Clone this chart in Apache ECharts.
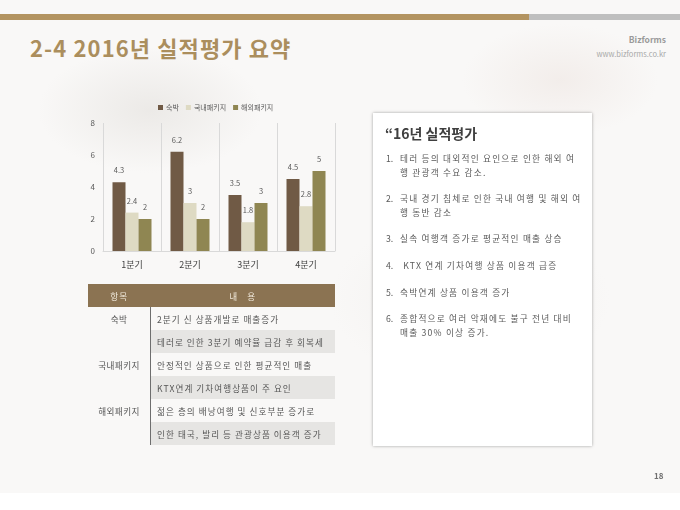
<!DOCTYPE html>
<html>
<head>
<meta charset="utf-8">
<script src="https://cdn.jsdelivr.net/npm/echarts@6/dist/echarts.min.js"></script>
<style>
  html, body { margin: 0; padding: 0; width: 680px; height: 510px; background: #fff; overflow: hidden; }
  body { font-family: "Noto Sans CJK KR", "Noto Sans", sans-serif; position: relative; }
  #slide {
    position: absolute; left: 0; top: 0; width: 680px; height: 493px;
    background:
      radial-gradient(ellipse 160px 90px at 150px 110px, rgba(225,222,218,0.55), rgba(255,255,255,0) 70%),
      radial-gradient(ellipse 140px 80px at 560px 80px, rgba(238,230,226,0.6), rgba(255,255,255,0) 70%),
      radial-gradient(ellipse 200px 120px at 470px 300px, rgba(235,232,230,0.5), rgba(255,255,255,0) 70%),
      #f9f8f7;
  }
  .bar-gold { position: absolute; left: 0; top: 14px; width: 529px; height: 6px; background: #b39461; }
  .bar-gray { position: absolute; left: 529px; top: 14px; width: 151px; height: 6px; background: #bfbfbf; }
  .title { position: absolute; left: 30px; top: 31px; font-size: 22px; font-weight: bold; color: #ab8e5d; letter-spacing: 1.1px; }
  .brand { position: absolute; right: 14px; top: 33px; font-size: 8.5px; font-weight: bold; color: #9a9a9a; text-align: right; }
  .url { position: absolute; right: 14px; top: 48px; font-size: 7.5px; color: #a8a8a8; text-align: right; }
  #chart { position: absolute; left: 0; top: 0; width: 680px; height: 510px; }
  table.info { position: absolute; left: 88px; top: 284px; width: 247px; border-collapse: collapse; font-size: 8.6px; color: #555; letter-spacing: 1.05px; }
  table.info th { height: 23px; background: #8b7352; color: #f1eadc; font-weight: normal; padding: 0; }
  table.info td { height: 23px; padding: 0; white-space: nowrap; }
  table.info td.k { width: 62px; text-align: center; border-right: 1px solid #6e6e6e; letter-spacing: 0.4px; }
  table.info td.v { padding-left: 6px; }
  table.info tr.g td { background: #e6e5e3; }
  table.info tr.g td.k { background: transparent; }
  .box { position: absolute; left: 373px; top: 113px; width: 219px; height: 333px; background: #fff; box-shadow: 0 0 3px rgba(0,0,0,0.35); }
  .box h3 { margin: 0; position: absolute; left: 12px; top: 10px; font-size: 14px; color: #3f3f3f; }
  .box ol { position: absolute; left: 13px; top: 39px; width: 200px; margin: 0; padding: 0; list-style: none; font-size: 8.7px; color: #5a5a5a; line-height: 13.6px; letter-spacing: 1.2px; }
  .box li { position: relative; padding-left: 14px; margin-bottom: 13px; white-space: nowrap; }
  .box li span { position: absolute; left: 0; top: 0; letter-spacing: 0; }
  .page { position: absolute; left: 654px; top: 470px; font-size: 8px; font-weight: bold; color: #707070; }
</style>
</head>
<body>
<div id="slide"></div>
<div class="bar-gold"></div>
<div class="bar-gray"></div>
<div class="title">2-4 2016년 실적평가 요약</div>
<div class="brand">Bizforms</div>
<div class="url">www.bizforms.co.kr</div>
<div id="chart"></div>
<table class="info">
  <tr><th>항목</th><th>내 &nbsp; 용</th></tr>
  <tr><td class="k">숙박</td><td class="v">2분기 신 상품개발로 매출증가</td></tr>
  <tr class="g"><td class="k"></td><td class="v">테러로 인한 3분기 예약율 급감 후 회복세</td></tr>
  <tr><td class="k">국내패키지</td><td class="v">안정적인 상품으로 인한 평균적인 매출</td></tr>
  <tr class="g"><td class="k"></td><td class="v">KTX연계 기차여행상품이 주 요인</td></tr>
  <tr><td class="k">해외패키지</td><td class="v">젊은 층의 배낭여행 및 신호부분 증가로</td></tr>
  <tr class="g"><td class="k"></td><td class="v">인한 태국, 발리 등 관광상품 이용객 증가</td></tr>
</table>
<div class="box">
  <h3>“16년 실적평가</h3>
  <ol>
    <li><span>1.</span>테러 등의 대외적인 요인으로 인한 해외 여<br>행 관광객 수요 감소.</li>
    <li><span>2.</span>국내 경기 침체로 인한 국내 여행 및 해외 여<br>행 동반 감소</li>
    <li><span>3.</span>실속 여행객 증가로 평균적인 매출 상승</li>
    <li><span>4.</span>&nbsp;KTX 연계 기차여행 상품 이용객 급증</li>
    <li><span>5.</span>숙박연계 상품 이용객 증가</li>
    <li><span>6.</span>종합적으로 여러 악재에도 불구 전년 대비<br>매출 30% 이상 증가.</li>
  </ol>
</div>
<div class="page">18</div>
<script>
const quarters = ["1분기", "2분기", "3분기", "4분기"]
const seriesNames = ["숙박", "국내패키지", "해외패키지"]
const lodging = [4.3, 6.2, 3.5, 4.5]
const domestic = [2.4, 3, 1.8, 2.8]
const overseas = [2, 2, 3, 5]
const yTicks = [0, 2, 4, 6, 8]

const colors = ["#705a45", "#dedac3", "#8f8652"]
const values = [lodging, domestic, overseas]

const chart = echarts.init(document.getElementById("chart"))
chart.setOption({
  animation: false,
  textStyle: { fontFamily: "Noto Sans CJK KR" },
  legend: {
    top: 99,
    left: 153,
    itemWidth: 5,
    itemHeight: 5,
    itemGap: 7,
    icon: "rect",
    textStyle: { fontSize: 7, color: "#595959", padding: [0, 0, 0, -2] },
    data: seriesNames
  },
  grid: { left: 103, right: 345, top: 123, bottom: 259 },
  xAxis: {
    type: "category",
    data: quarters,
    axisLine: { lineStyle: { color: "#d9d9d9" } },
    axisTick: { show: false },
    splitLine: { show: true, lineStyle: { color: "#d9d9d9" } },
    axisLabel: { fontSize: 9, color: "#404040", margin: 9 }
  },
  yAxis: {
    type: "value",
    min: yTicks[0],
    max: yTicks[yTicks.length - 1],
    interval: 2,
    axisLine: { show: false },
    axisTick: { show: false },
    splitLine: { show: false },
    axisLabel: { fontSize: 8, color: "#595959", margin: 8 }
  },
  series: seriesNames.map((name, i) => ({
    name: name,
    type: "bar",
    data: values[i],
    barWidth: 13,
    barGap: "0%",
    itemStyle: { color: colors[i] },
    label: { show: true, position: "top", fontSize: 7.5, color: "#595959", distance: 8 }
  }))
})
</script>
</body>
</html>
